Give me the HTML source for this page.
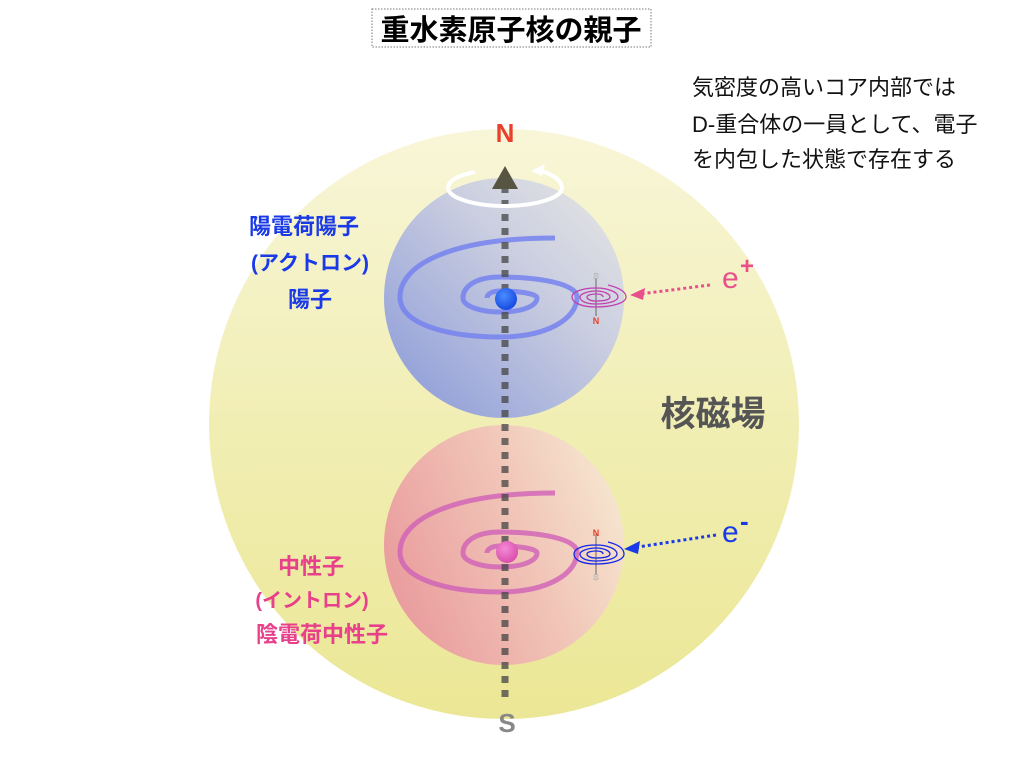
<!DOCTYPE html>
<html><head><meta charset="utf-8"><style>
body{margin:0;background:#fff;}
svg text{font-family:"Liberation Sans","Noto Sans CJK JP",sans-serif;}
</style></head><body>
<svg width="1024" height="768" viewBox="0 0 1024 768" xmlns="http://www.w3.org/2000/svg">
<defs>
<linearGradient id="yel" x1="0" y1="0" x2="0" y2="1">
<stop offset="0" stop-color="#f8f6d8"/><stop offset="0.5" stop-color="#f1eeb4"/><stop offset="1" stop-color="#ebe795"/></linearGradient>
<linearGradient id="blu" x1="0" y1="1" x2="1" y2="0">
<stop offset="0" stop-color="#8797d8"/><stop offset="0.6" stop-color="#c9cde0"/><stop offset="1" stop-color="#e8e8e4"/></linearGradient>
<linearGradient id="pnk" x1="0" y1="0.7" x2="1" y2="0.3">
<stop offset="0" stop-color="#e99a9c"/><stop offset="0.6" stop-color="#f1c6b8"/><stop offset="1" stop-color="#f6e6d0"/></linearGradient>
<radialGradient id="bb" cx="0.4" cy="0.35" r="0.7"><stop offset="0" stop-color="#4a8cff"/><stop offset="1" stop-color="#1446e0"/></radialGradient>
<radialGradient id="pb" cx="0.4" cy="0.35" r="0.7"><stop offset="0" stop-color="#f48ad8"/><stop offset="1" stop-color="#d84aa8"/></radialGradient>
</defs>
<rect x="372" y="9" width="279" height="38" fill="#fff" stroke="#777" stroke-width="1" stroke-dasharray="1.5,1.5"/>
<text x="511" y="40" font-size="29" font-weight="bold" text-anchor="middle" fill="#000">重水素原子核の親子</text>
<text x="692" y="95" font-size="22" fill="#111">気密度の高いコア内部では</text>
<text x="692" y="132" font-size="22" fill="#111">D-重合体の一員として、電子</text>
<text x="692" y="167" font-size="22" fill="#111">を内包した状態で存在する</text>
<circle cx="504" cy="424" r="295" fill="url(#yel)"/>
<circle cx="504" cy="298" r="120" fill="url(#blu)"/>
<circle cx="504" cy="545" r="120" fill="url(#pnk)"/>
<text x="505" y="142" font-size="26" font-weight="bold" text-anchor="middle" fill="#e8402a">N</text>
<text x="507" y="732" font-size="26" font-weight="bold" text-anchor="middle" fill="#888">S</text>
<path d="M555,238 C450,238 400,265 400,297 C400,325 450,337 500,337 C545,337 577,320 577,297 C577,284 540,277 500,277 C475,277 463,287 463,298 C463,306 480,312 500,312 C525,312 537,305 537,298 C537,293 515,291 500,291 C492,291 487,294 487,298" fill="none" stroke="#7682ee" stroke-opacity="0.85" stroke-width="5"/>
<path d="M555,493 C450,493 400,520 400,552 C400,580 450,592 500,592 C545,592 577,575 577,552 C577,539 540,532 500,532 C475,532 463,542 463,553 C463,561 480,567 500,567 C525,567 537,560 537,553 C537,548 515,546 500,546 C492,546 487,549 487,553" fill="none" stroke="#d060b8" stroke-opacity="0.8" stroke-width="5"/>
<line x1="505" y1="186" x2="505" y2="700" stroke="#444" stroke-opacity="0.75" stroke-width="7" stroke-dasharray="7,7"/>
<circle cx="506" cy="299" r="11" fill="url(#bb)"/>
<circle cx="507" cy="552" r="11" fill="url(#pb)"/>
<path d="M475,172 C455,176 448,182 448,188 C448,198 475,206 505,206 C535,206 562,198 562,188 C562,180 552,174 538,170" fill="none" stroke="#fff" stroke-width="4"/>
<path d="M531,171 L545,164 L542,176 Z" fill="#fff"/>
<path d="M505,166 L492,189 L518,189 Z" fill="#555542"/>
<line x1="596" y1="278" x2="596" y2="316" stroke="#666" stroke-width="1"/>
<g fill="none" stroke="#c040b0" stroke-width="1.3">
<path d="M608,285 C620,288 626,292 626,297 C626,303 612,307 596,307 C580,307 572,302 572,297 C572,292 582,288 596,288 C608,288 618,292 618,297 C618,301 608,304 596,304 C586,304 580,301 580,297 C580,294 588,291 596,291 C604,291 610,294 610,297 C610,300 603,301 596,301 C590,301 587,299 587,297 C587,295 592,294 596,294 C600,294 603,295 603,297"/>
</g>
<text x="596" y="279" font-size="8" text-anchor="middle" fill="#fff" stroke="#888" stroke-width="0.3">S</text>
<text x="596" y="324" font-size="9" font-weight="bold" text-anchor="middle" fill="#e8402a">N</text>
<line x1="710" y1="285" x2="640" y2="294" stroke="#e8508c" stroke-width="3" stroke-dasharray="3,3"/>
<path d="M630,295 L645,288 L643,300 Z" fill="#e8508c"/>
<text x="722" y="288" font-size="30" fill="#e8508c">e</text>
<text x="740" y="274" font-size="24" font-weight="bold" fill="#e8508c">+</text>
<line x1="596" y1="534" x2="596" y2="575" stroke="#666" stroke-width="1"/>
<g fill="none" stroke="#1428e8" stroke-width="1.3">
<path d="M608,542 C620,545 624,549 624,554 C624,560 612,564 596,564 C580,564 574,559 574,554 C574,549 582,545 596,545 C608,545 617,549 617,554 C617,558 608,561 596,561 C586,561 580,558 580,554 C580,551 588,548 596,548 C604,548 610,551 610,554 C610,557 603,558 596,558 C590,558 587,556 587,554 C587,552 592,551 596,551 C600,551 603,552 603,554"/>
</g>
<text x="596" y="536" font-size="9" font-weight="bold" text-anchor="middle" fill="#e8402a">N</text>
<text x="596" y="580" font-size="8" text-anchor="middle" fill="#fff" stroke="#888" stroke-width="0.3">S</text>
<line x1="716" y1="535" x2="638" y2="547" stroke="#1a3ae8" stroke-width="3" stroke-dasharray="3,3"/>
<path d="M624,549 L640,541 L638,554 Z" fill="#1a3ae8"/>
<text x="722" y="542" font-size="30" fill="#1a3ae8">e</text>
<text x="740" y="530" font-size="26" font-weight="bold" fill="#1a3ae8">-</text>
<text x="304" y="234" font-size="22" font-weight="bold" text-anchor="middle" fill="#1a3ae8">陽電荷陽子</text>
<text x="310" y="270" font-size="21" font-weight="bold" text-anchor="middle" fill="#1a3ae8">(アクトロン)</text>
<text x="310" y="307" font-size="22" font-weight="bold" text-anchor="middle" fill="#1a3ae8">陽子</text>
<text x="311" y="574" font-size="22" font-weight="bold" text-anchor="middle" fill="#e8408a">中性子</text>
<text x="312" y="607" font-size="20" font-weight="bold" text-anchor="middle" fill="#e8408a">(イントロン)</text>
<text x="322" y="642" font-size="22" font-weight="bold" text-anchor="middle" fill="#e8408a">陰電荷中性子</text>
<text x="713" y="426" font-size="35" font-weight="bold" text-anchor="middle" fill="#555">核磁場</text>
</svg>
</body></html>
